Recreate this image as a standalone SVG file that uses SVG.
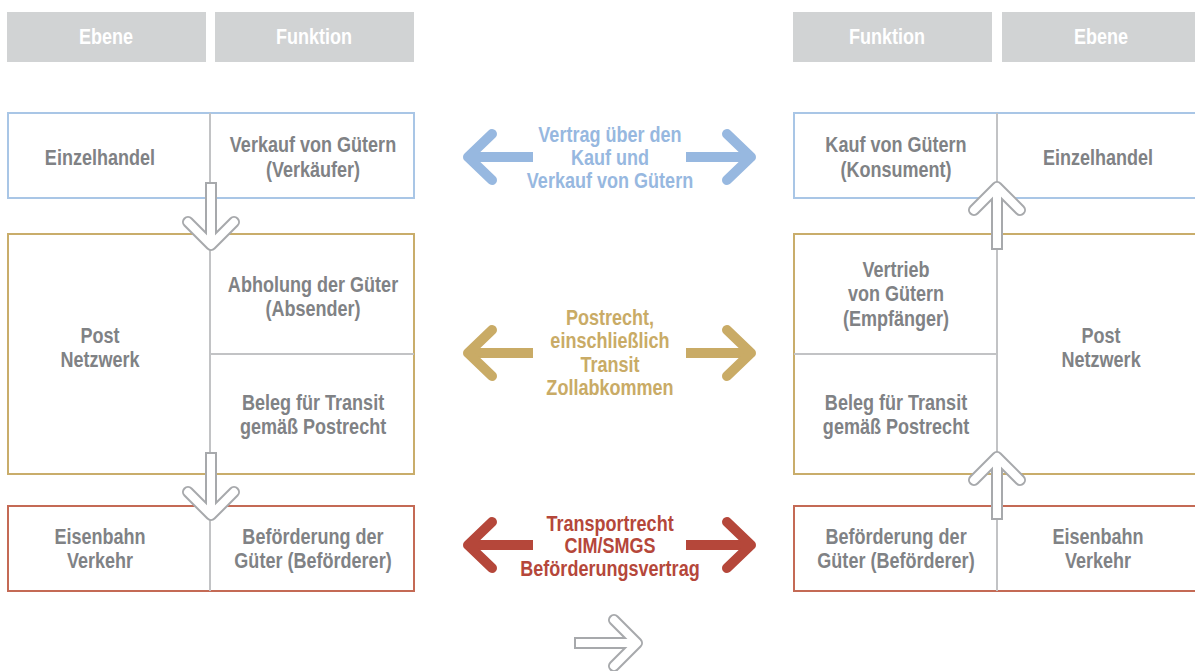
<svg xmlns="http://www.w3.org/2000/svg" width="1195" height="671" viewBox="0 0 1195 671">
<style>
text{font-family:"Liberation Sans",Arial,sans-serif;font-weight:bold;font-size:22px;text-anchor:middle;transform-box:fill-box;transform-origin:center;transform:scaleX(0.82)}
.t{fill:#808285}
.h{fill:#ffffff}
.hdr{fill:#d1d3d4}
.bx{fill:#ffffff;stroke-width:2}
.blue{stroke:#a9c6e6}
.gold{stroke:#c9ad6b}
.red{stroke:#c46a55}
.div{stroke:#c2c3c5;stroke-width:2;fill:none}
.og{stroke:#a7a9ac;fill:none}
.ow{stroke:#ffffff;fill:none}
.ca{fill:none;stroke-width:10;stroke-linecap:round;stroke-linejoin:round}
.cs{fill:none;stroke-width:10;stroke-linecap:butt}
</style>
<defs>
<g id="hollowDown">
<line class="og" x1="0" y1="0" x2="0" y2="58" stroke-width="12"/>
<polyline class="og" points="-23,40 0,63 23,40" stroke-width="12" stroke-linecap="round" stroke-linejoin="round"/>
<line class="ow" x1="0" y1="2" x2="0" y2="58" stroke-width="8"/>
<polyline class="ow" points="-23,40 0,63 23,40" stroke-width="8" stroke-linecap="round" stroke-linejoin="round"/>
</g>
<g id="dblArrow">
<line class="cs" x1="470" y1="0" x2="533" y2="0"/>
<polyline class="ca" points="492,-23 468,0 492,23"/>
<line class="cs" x1="686" y1="0" x2="749" y2="0"/>
<polyline class="ca" points="727,-23 751,0 727,23"/>
</g>
</defs>

<g id="header-left-ebene"><rect class="hdr" x="7" y="12" width="199" height="50"/><text class="h" x="106" y="44">Ebene</text></g>
<g id="header-left-funktion"><rect class="hdr" x="215" y="12" width="199" height="50"/><text class="h" x="314" y="44">Funktion</text></g>
<g id="header-right-funktion"><rect class="hdr" x="793" y="12" width="199" height="50"/><text class="h" x="887" y="44">Funktion</text></g>
<g id="header-right-ebene"><rect class="hdr" x="1002" y="12" width="199" height="50"/><text class="h" x="1101" y="44">Ebene</text></g>

<g id="left-einzelhandel">
<rect class="bx blue" x="8" y="113" width="406" height="85"/>
<line class="div" x1="210" y1="113" x2="210" y2="198"/>
<text class="t" x="100" y="165">Einzelhandel</text>
<text class="t" x="313" y="152">Verkauf von Gütern</text>
<text class="t" x="313" y="177">(Verkäufer)</text>
</g>
<g id="left-post">
<rect class="bx gold" x="8" y="234" width="406" height="240"/>
<line class="div" x1="210" y1="234" x2="210" y2="474"/>
<line class="div" x1="210" y1="354" x2="414" y2="354"/>
<text class="t" x="100" y="343">Post</text>
<text class="t" x="100" y="367">Netzwerk</text>
<text class="t" x="313" y="292">Abholung der Güter</text>
<text class="t" x="313" y="316">(Absender)</text>
<text class="t" x="313" y="410">Beleg für Transit</text>
<text class="t" x="313" y="434">gemäß Postrecht</text>
</g>
<g id="left-eisenbahn">
<rect class="bx red" x="8" y="506" width="406" height="85"/>
<line class="div" x1="210" y1="506" x2="210" y2="591"/>
<text class="t" x="100" y="544">Eisenbahn</text>
<text class="t" x="100" y="568">Verkehr</text>
<text class="t" x="313" y="544">Beförderung der</text>
<text class="t" x="313" y="568">Güter (Beförderer)</text>
</g>

<g id="right-einzelhandel">
<rect class="bx blue" x="794" y="113" width="410" height="85"/>
<line class="div" x1="997" y1="113" x2="997" y2="198"/>
<text class="t" x="896" y="152">Kauf von Gütern</text>
<text class="t" x="896" y="177">(Konsument)</text>
<text class="t" x="1098" y="165">Einzelhandel</text>
</g>
<g id="right-post">
<rect class="bx gold" x="794" y="234" width="410" height="240"/>
<line class="div" x1="997" y1="234" x2="997" y2="474"/>
<line class="div" x1="794" y1="354" x2="997" y2="354"/>
<text class="t" x="896" y="277">Vertrieb</text>
<text class="t" x="896" y="301">von Gütern</text>
<text class="t" x="896" y="326">(Empfänger)</text>
<text class="t" x="896" y="410">Beleg für Transit</text>
<text class="t" x="896" y="434">gemäß Postrecht</text>
<text class="t" x="1101" y="343">Post</text>
<text class="t" x="1101" y="367">Netzwerk</text>
</g>
<g id="right-eisenbahn">
<rect class="bx red" x="794" y="506" width="410" height="85"/>
<line class="div" x1="997" y1="506" x2="997" y2="591"/>
<text class="t" x="896" y="544">Beförderung der</text>
<text class="t" x="896" y="568">Güter (Beförderer)</text>
<text class="t" x="1098" y="544">Eisenbahn</text>
<text class="t" x="1098" y="568">Verkehr</text>
</g>

<g id="connectors">
<use href="#hollowDown" transform="translate(211,182)"/>
<use href="#hollowDown" transform="translate(211,452)"/>
<use href="#hollowDown" transform="translate(997,250) rotate(180)"/>
<use href="#hollowDown" transform="translate(997,520) rotate(180)"/>
<use href="#hollowDown" transform="translate(574,643) rotate(-90)"/>
<use href="#dblArrow" transform="translate(0,157)" style="stroke:#97b8e0"/>
<use href="#dblArrow" transform="translate(0,353)" style="stroke:#c9ab66"/>
<use href="#dblArrow" transform="translate(0,545)" style="stroke:#b5473a"/>
<g id="label-kauf" style="fill:#97b8e0">
<text x="610" y="142">Vertrag über den</text>
<text x="610" y="165">Kauf und</text>
<text x="610" y="188">Verkauf von Gütern</text>
</g>
<g id="label-post" style="fill:#c9ab66">
<text x="610" y="325">Postrecht,</text>
<text x="610" y="348">einschließlich</text>
<text x="610" y="372">Transit</text>
<text x="610" y="395">Zollabkommen</text>
</g>
<g id="label-transport" style="fill:#b5473a">
<text x="610" y="531">Transportrecht</text>
<text x="610" y="553">CIM/SMGS</text>
<text x="610" y="576">Beförderungsvertrag</text>
</g>
</g>
</svg>
